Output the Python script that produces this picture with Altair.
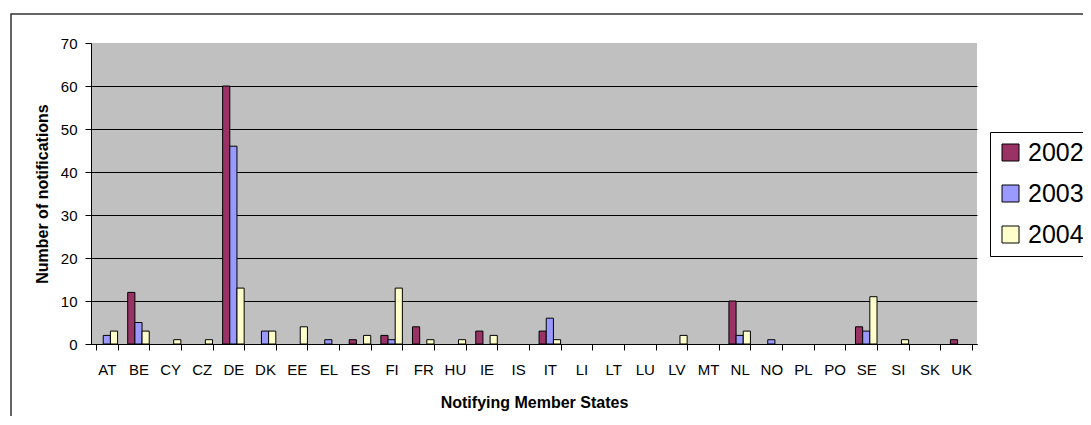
import altair as alt
import pandas as pd

states = ["AT", "BE", "CY", "CZ", "DE", "DK", "EE", "EL", "ES", "FI", "FR", "HU", "IE", "IS",
          "IT", "LI", "LT", "LU", "LV", "MT", "NL", "NO", "PL", "PO", "SE", "SI", "SK", "UK"]
years = ["2002", "2003", "2004"]
v2002 = [0, 12, 0, 0, 60, 0, 0, 0, 1, 2, 4, 0, 3, 0, 3, 0, 0, 0, 0, 0, 10, 0, 0, 0, 4, 0, 0, 1]
v2003 = [2, 5, 0, 0, 46, 3, 0, 1, 0, 1, 0, 0, 0, 0, 6, 0, 0, 0, 0, 0, 2, 1, 0, 0, 3, 0, 0, 0]
v2004 = [3, 3, 1, 1, 13, 3, 4, 0, 2, 13, 1, 1, 2, 0, 1, 0, 0, 0, 2, 0, 3, 0, 0, 0, 11, 1, 0, 0]
colors = ["#993366", "#9999FF", "#FFFFCC"]
y_ticks = [0, 10, 20, 30, 40, 50, 60, 70]

rows = []
for yr, vals in zip(years, [v2002, v2003, v2004]):
    for s, v in zip(states, vals):
        rows.append({"state": s, "year": yr, "count": v})
df = pd.DataFrame(rows)

FONT = "Liberation Sans"

bars = alt.Chart(df).transform_filter("datum.count > 0").mark_bar(
    stroke="black", strokeWidth=1
).encode(
    x=alt.X(
        "state:N",
        sort=states,
        scale=alt.Scale(domain=states, paddingInner=0.32, paddingOuter=0.16),
        axis=alt.Axis(
            title="Notifying Member States",
            titleFont=FONT, titleFontSize=16, titleFontWeight="bold", titleColor="black",
            titlePadding=17,
            labelFont=FONT, labelFontSize=15, labelColor="black", labelAngle=0,
            labelPadding=12,
            tickBand="extent", tickSize=6, tickColor="black", tickWidth=1,
            domainColor="black", domainWidth=1,
            grid=False,
        ),
    ),
    xOffset=alt.XOffset("year:N", sort=years, scale=alt.Scale(domain=years)),
    y=alt.Y(
        "count:Q",
        scale=alt.Scale(domain=[0, 70], nice=False),
        axis=alt.Axis(
            values=y_ticks,
            title="Number of notifications",
            titleFont=FONT, titleFontSize=16, titleFontWeight="bold", titleColor="black",
            titlePadding=10,
            labelFont=FONT, labelFontSize=15, labelColor="black", labelPadding=8,
            tickSize=6, tickColor="black", tickWidth=1,
            domainColor="black", domainWidth=1,
            grid=True, gridColor="black", gridWidth=1,
            gridOpacity=alt.condition("datum.value == 70", alt.value(0), alt.value(1)),
        ),
    ),
    color=alt.Color(
        "year:N",
        sort=years,
        scale=alt.Scale(domain=years, range=colors),
        legend=alt.Legend(
            title=None,
            orient="none", legendX=899, legendY=89,
            direction="vertical",
            labelFont=FONT, labelFontSize=25, labelColor="black",
            labelOffset=5,
            symbolType="square", symbolSize=289,
            symbolStrokeColor="black", symbolStrokeWidth=1,
            rowPadding=15,
            padding=8,
            strokeColor="black", fillColor="white",
        ),
    ),
)

frame = alt.Chart(pd.DataFrame({"k": [0]})).mark_rect(
    filled=False, stroke="#333333", strokeWidth=1.5
).encode(
    x=alt.value(-80), x2=alt.value(1600), y=alt.value(-29), y2=alt.value(1200)
)

chart = alt.layer(frame, bars).properties(
    width=886,
    height=301,
    padding={"left": 83, "top": 35, "right": 106, "bottom": 72},
    autosize=alt.AutoSizeParams(type="none"),
    background="white",
).configure_view(
    fill="#C0C0C0", stroke=None
)

chart.save("out.html", embed_options={"renderer": "svg", "actions": False})
